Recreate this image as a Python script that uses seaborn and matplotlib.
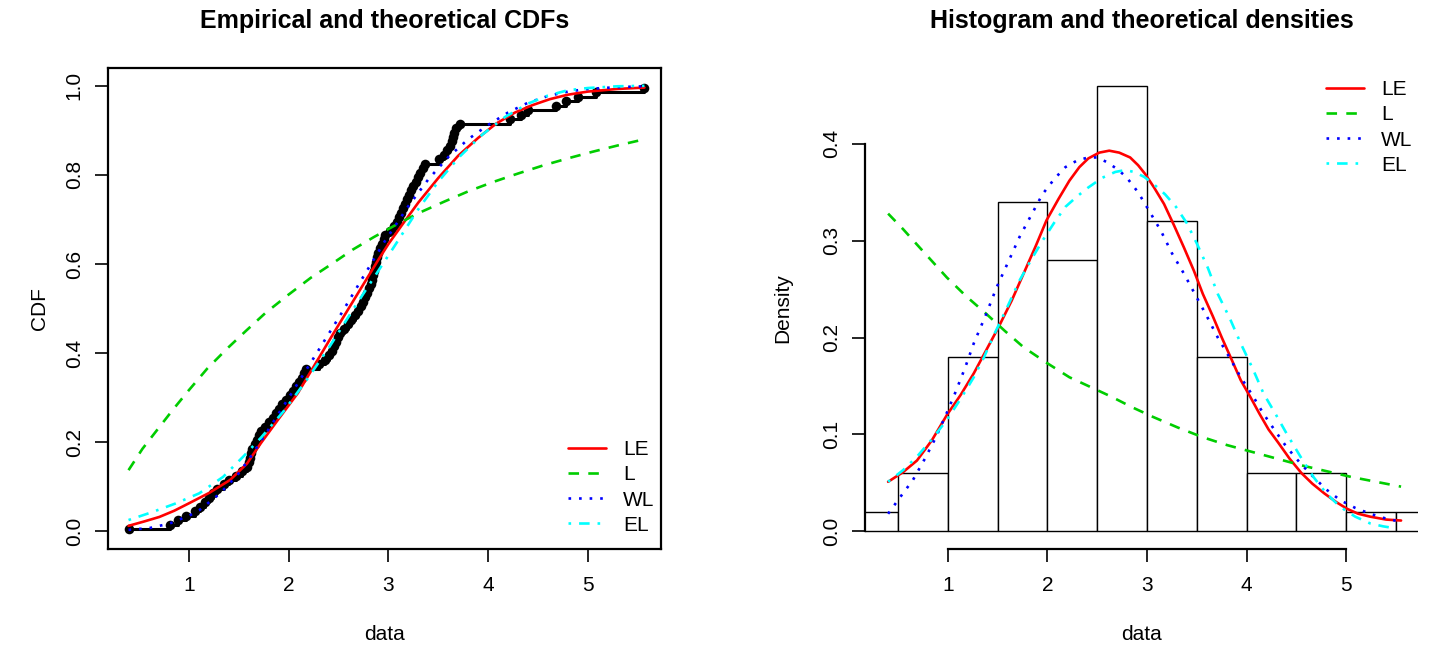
import numpy as np
import pandas as pd
import matplotlib
matplotlib.use("Agg")
import matplotlib.pyplot as plt
import seaborn as sns

# ---------------- data ----------------
data = [0.39, 0.81, 0.89, 0.97,
        1.06, 1.11, 1.16, 1.20, 1.24, 1.28, 1.35, 1.40, 1.47,
        1.53, 1.58, 1.60, 1.61, 1.62, 1.63, 1.66, 1.68, 1.70, 1.72, 1.76, 1.80, 1.84, 1.87, 1.90, 1.93, 1.97,
        2.01, 2.04, 2.07, 2.10, 2.13, 2.15, 2.17, 2.30, 2.36, 2.40, 2.43, 2.45, 2.47, 2.49,
        2.51, 2.55, 2.59, 2.62, 2.66, 2.69, 2.72, 2.74, 2.76, 2.78, 2.80, 2.82, 2.83, 2.84, 2.85, 2.86, 2.87,
        2.88, 2.89, 2.91, 2.93, 2.95, 2.97,
        3.02, 3.06, 3.09, 3.11, 3.13, 3.15, 3.17, 3.19, 3.21, 3.23, 3.25, 3.28, 3.30, 3.32, 3.35, 3.37,
        3.51, 3.56, 3.59, 3.62, 3.64, 3.65, 3.66, 3.68, 3.72,
        4.22, 4.33, 4.40,
        4.68, 4.78, 4.90,
        5.08,
        5.57]
bin_edges = [0.0, 0.5, 1.0, 1.5, 2.0, 2.5, 3.0, 3.5, 4.0, 4.5, 5.0, 5.5, 6.0]

labels = ["LE", "L", "WL", "EL"]

# theoretical CDFs
le_cdf_x = [0.39, 0.55, 0.70, 0.85, 1.00, 1.20, 1.41, 1.58, 1.72, 1.89, 2.09, 2.25, 2.45, 2.60, 2.75,
            2.90, 3.00, 3.15, 3.30, 3.50, 3.70, 3.90, 4.08, 4.27, 4.45, 4.62, 4.80, 5.00, 5.30, 5.57]
le_cdf_y = [0.012, 0.022, 0.032, 0.046, 0.063, 0.086, 0.115, 0.152, 0.198, 0.25, 0.31, 0.37, 0.445, 0.50, 0.555,
            0.61, 0.645, 0.692, 0.738, 0.793, 0.843, 0.883, 0.915, 0.94, 0.957, 0.97, 0.98, 0.987, 0.993, 0.996]
l_cdf_x = [0.39, 0.53, 0.69, 0.84, 0.99, 1.18, 1.38, 1.57, 1.76, 1.99, 2.22, 2.43, 2.64, 2.85, 3.06,
           3.30, 3.56, 3.80, 4.05, 4.30, 4.55, 4.80, 5.05, 5.30, 5.57]
l_cdf_y = [0.137, 0.185, 0.231, 0.274, 0.315, 0.365, 0.410, 0.450, 0.489, 0.530, 0.569, 0.600, 0.632, 0.660, 0.686,
           0.714, 0.740, 0.763, 0.784, 0.803, 0.821, 0.837, 0.852, 0.866, 0.880]
wl_cdf_x = [0.39, 0.60, 0.80, 1.00, 1.10, 1.31, 1.48, 1.61, 1.80, 2.00, 2.28, 2.53, 2.73, 2.96, 3.20,
            3.40, 3.60, 3.80, 4.00, 4.20, 4.40, 4.60, 4.80, 5.00, 5.30, 5.57]
wl_cdf_y = [0.003, 0.007, 0.017, 0.035, 0.047, 0.085, 0.125, 0.165, 0.23, 0.30, 0.40, 0.49, 0.565, 0.65, 0.73,
            0.79, 0.84, 0.88, 0.912, 0.94, 0.962, 0.977, 0.987, 0.993, 0.997, 0.999]
el_cdf_x = [0.39, 0.63, 0.86, 1.10, 1.34, 1.54, 1.72, 1.95, 2.18, 2.41, 2.68, 2.87, 3.06, 3.29, 3.50,
            3.71, 3.94, 4.17, 4.40, 4.60, 4.80, 5.00, 5.30, 5.57]
el_cdf_y = [0.025, 0.043, 0.062, 0.085, 0.122, 0.167, 0.21, 0.27, 0.34, 0.415, 0.51, 0.575, 0.64, 0.72, 0.785,
            0.84, 0.89, 0.93, 0.96, 0.978, 0.99, 0.995, 0.999, 1.0]

# theoretical densities
le_pdf_x = [0.40, 0.55, 0.69, 0.84, 0.99, 1.13, 1.26, 1.38, 1.51, 1.64, 1.76, 1.88, 1.99, 2.11, 2.22,
            2.32, 2.41, 2.52, 2.62, 2.72, 2.83, 2.91, 2.98, 3.07, 3.17, 3.27, 3.37, 3.47, 3.56, 3.66,
            3.75, 3.85, 3.94, 4.04, 4.13, 4.22, 4.32, 4.43, 4.55, 4.66, 4.78, 4.90, 5.01, 5.12, 5.24,
            5.40, 5.55]
le_pdf_y = [0.051, 0.061, 0.073, 0.094, 0.120, 0.141, 0.163, 0.186, 0.211, 0.238, 0.266, 0.294, 0.321, 0.343, 0.362,
            0.376, 0.385, 0.391, 0.393, 0.391, 0.386, 0.378, 0.369, 0.355, 0.338, 0.316, 0.293, 0.269, 0.245, 0.222,
            0.200, 0.177, 0.156, 0.138, 0.121, 0.105, 0.091, 0.075, 0.060, 0.049, 0.039, 0.030, 0.023, 0.018, 0.015,
            0.012, 0.011]
l_pdf_x = [0.40, 0.55, 0.69, 0.84, 0.99, 1.18, 1.38, 1.57, 1.76, 1.99, 2.22, 2.43, 2.64, 2.85, 3.06,
           3.31, 3.56, 3.80, 4.05, 4.30, 4.55, 4.80, 5.05, 5.30, 5.55]
l_pdf_y = [0.328, 0.312, 0.296, 0.279, 0.262, 0.243, 0.225, 0.207, 0.190, 0.174, 0.159, 0.149, 0.139, 0.128, 0.118,
           0.107, 0.097, 0.089, 0.082, 0.075, 0.068, 0.062, 0.056, 0.051, 0.046]
wl_pdf_x = [0.40, 0.52, 0.65, 0.77, 0.88, 0.98, 1.07, 1.17, 1.26, 1.38, 1.49, 1.61, 1.72, 1.84, 1.95,
            2.07, 2.18, 2.30, 2.41, 2.50, 2.60, 2.70, 2.79, 2.91, 3.02, 3.14, 3.25, 3.37, 3.48, 3.60,
            3.71, 3.83, 3.94, 4.06, 4.17, 4.29, 4.40, 4.54, 4.67, 4.80, 4.94, 5.09, 5.24, 5.40, 5.55]
wl_pdf_y = [0.018, 0.035, 0.053, 0.075, 0.097, 0.120, 0.142, 0.168, 0.194, 0.223, 0.252, 0.279, 0.304, 0.327, 0.348,
            0.364, 0.376, 0.383, 0.386, 0.386, 0.381, 0.374, 0.366, 0.350, 0.331, 0.310, 0.287, 0.266, 0.245, 0.222,
            0.200, 0.179, 0.159, 0.140, 0.121, 0.103, 0.087, 0.070, 0.056, 0.043, 0.032, 0.024, 0.018, 0.013, 0.0096]
el_pdf_x = [0.40, 0.55, 0.69, 0.84, 0.99, 1.13, 1.26, 1.36, 1.45, 1.59, 1.72, 1.84, 1.95, 2.07, 2.18,
            2.30, 2.41, 2.55, 2.68, 2.78, 2.87, 2.97, 3.06, 3.18, 3.29, 3.40, 3.50, 3.61, 3.71, 3.83,
            3.94, 4.06, 4.17, 4.29, 4.40, 4.54, 4.67, 4.80, 4.94, 5.09, 5.24, 5.37, 5.49]
el_pdf_y = [0.051, 0.063, 0.077, 0.095, 0.115, 0.137, 0.159, 0.179, 0.200, 0.230, 0.259, 0.281, 0.300, 0.319, 0.335,
            0.346, 0.355, 0.365, 0.371, 0.373, 0.371, 0.366, 0.359, 0.348, 0.335, 0.318, 0.297, 0.272, 0.245, 0.220,
            0.194, 0.168, 0.142, 0.121, 0.101, 0.077, 0.056, 0.039, 0.025, 0.015, 0.008, 0.005, 0.003]

# ---------------- styling ----------------
sns.set_theme(style="ticks")
plt.rcParams['font.family'] = ['Liberation Sans', 'DejaVu Sans']
plt.rcParams['text.color'] = 'black'
plt.rcParams['axes.labelcolor'] = 'black'
plt.rcParams['xtick.color'] = 'black'
plt.rcParams['ytick.color'] = 'black'

colors = ["#FF0000", "#00CD00", "#0000FF", "#00FFFF"]
styles = ["-", (0, (4, 3.5)), (0, (1, 3)), (0, (1, 3, 4, 3))]
LW = 1.9
FS = 15

W, H = 1431, 647
fig = plt.figure(figsize=(W / 100, H / 100), dpi=100)
ax1 = fig.add_axes([108 / W, (H - 549) / H, 553 / W, 481 / H])
ax2 = fig.add_axes([865 / W, (H - 549) / H, 553 / W, 481 / H])

# ---------------- left: CDFs ----------------
s = np.sort(np.asarray(data))
n = len(s)
ecdf = pd.DataFrame({"x": s, "p": (np.arange(1, n + 1) - 0.5) / n})
sns.lineplot(data=ecdf, x="x", y="p", ax=ax1, color="black", lw=2.2,
             drawstyle="steps-post", estimator=None, sort=False, zorder=2)
sns.scatterplot(data=ecdf, x="x", y="p", ax=ax1, color="black", s=48,
                linewidth=0, zorder=2)

cdf_x = [le_cdf_x, l_cdf_x, wl_cdf_x, el_cdf_x]
cdf_y = [le_cdf_y, l_cdf_y, wl_cdf_y, el_cdf_y]
for xs, ys, c, ls, lab in zip(cdf_x, cdf_y, colors, styles, labels):
    sns.lineplot(x=xs, y=ys, ax=ax1, color=c, linestyle=ls, lw=LW, label=lab,
                 estimator=None, sort=False, zorder=3)

ax1.set_xlim(0.184, 5.736)
ax1.set_ylim(-0.04, 1.04)
ax1.set_xticks([1, 2, 3, 4, 5])
ax1.set_yticks([0.0, 0.2, 0.4, 0.6, 0.8, 1.0])
ax1.set_yticklabels(["0.0", "0.2", "0.4", "0.6", "0.8", "1.0"])
for sp in ax1.spines.values():
    sp.set_visible(True)
    sp.set_color("black")
    sp.set_linewidth(1.6)
ax1.set_title("Empirical and theoretical CDFs", fontsize=18, fontweight="bold",
              y=(549 - 21) / 481, va="center", pad=0, color="black")
ax1.set_xlabel("data", fontsize=FS, va="center")
ax1.xaxis.set_label_coords(0.5, (549 - 635) / 481)
ax1.set_ylabel("CDF", fontsize=FS, va="center")
ax1.yaxis.set_label_coords((40 - 108) / 553, 0.5)
leg1 = ax1.legend(loc="upper left", bbox_to_anchor=(568 / W, 1 - 440 / H),
                  bbox_transform=fig.transFigure, frameon=False, fontsize=FS,
                  handlelength=1.8, handletextpad=0.85, labelspacing=0.3,
                  borderpad=0, borderaxespad=0)

# ---------------- right: histogram + densities ----------------
sns.histplot(x=data, bins=bin_edges, stat="density", ax=ax2, color="white",
             edgecolor="black", linewidth=1.0, alpha=1.0, zorder=1)
pdf_x = [le_pdf_x, l_pdf_x, wl_pdf_x, el_pdf_x]
pdf_y = [le_pdf_y, l_pdf_y, wl_pdf_y, el_pdf_y]
for xs, ys, c, ls, lab in zip(pdf_x, pdf_y, colors, styles, labels):
    sns.lineplot(x=xs, y=ys, ax=ax2, color=c, linestyle=ls, lw=LW, label=lab,
                 estimator=None, sort=False, zorder=3)

ax2.set_xlim(0.168, 5.72)
ax2.set_ylim(-0.0184, 0.4784)
ax2.set_xticks([1, 2, 3, 4, 5])
ax2.set_yticks([0.0, 0.1, 0.2, 0.3, 0.4])
ax2.set_yticklabels(["0.0", "0.1", "0.2", "0.3", "0.4"])
ax2.spines["top"].set_visible(False)
ax2.spines["right"].set_visible(False)
for k in ["left", "bottom"]:
    ax2.spines[k].set_color("black")
    ax2.spines[k].set_linewidth(1.6)
ax2.spines["left"].set_bounds(0.0, 0.4)
ax2.spines["bottom"].set_bounds(1, 5)
ax2.set_title("Histogram and theoretical densities", fontsize=18, fontweight="bold",
              y=(549 - 21) / 481, va="center", pad=0, color="black")
ax2.set_xlabel("data", fontsize=FS, va="center")
ax2.xaxis.set_label_coords(0.5, (549 - 635) / 481)
ax2.set_ylabel("Density", fontsize=FS, va="center")
ax2.yaxis.set_label_coords((783 - 865) / 553, 0.5)
leg2 = ax2.legend(loc="upper left", bbox_to_anchor=(1326 / W, 1 - 80 / H),
                  bbox_transform=fig.transFigure, frameon=False, fontsize=FS,
                  handlelength=1.8, handletextpad=0.85, labelspacing=0.3,
                  borderpad=0, borderaxespad=0)

for leg in (leg1, leg2):
    for t in leg.get_texts():
        t.set_color("black")

for ax in (ax1, ax2):
    ax.tick_params(axis="both", direction="out", length=9.5, width=1.2, color="black",
                   labelsize=FS, labelcolor="black")
    ax.tick_params(axis="x", pad=10)
    ax.tick_params(axis="y", pad=8, labelrotation=90)
    for lab in ax.get_yticklabels():
        lab.set_va("center")
    ax.set_facecolor("white")
    ax.grid(False)

fig.savefig("out.png", dpi=100, facecolor="white")
